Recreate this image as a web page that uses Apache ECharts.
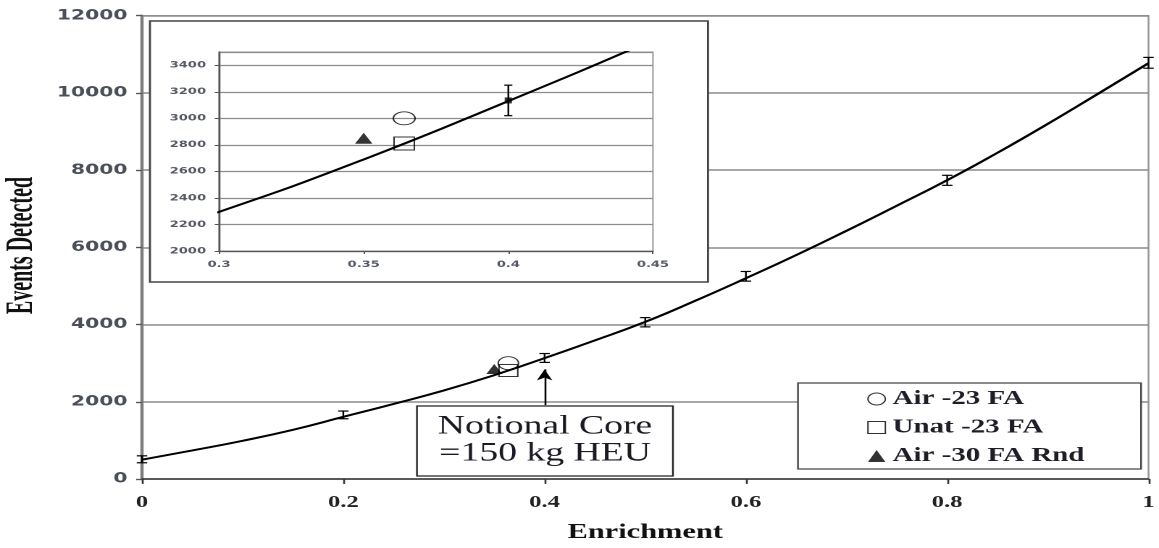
<!DOCTYPE html>
<html><head><meta charset="utf-8">
<script src="https://cdn.jsdelivr.net/npm/echarts@6/dist/echarts.min.js"></script>
<style>
html,body{margin:0;padding:0;background:#fff;overflow:hidden}
#wrap{width:1159px;height:548px;overflow:hidden;position:relative}
#chart{width:800px;height:548px;transform:scaleX(1.44875);transform-origin:0 0}
</style></head>
<body><div id="wrap"><div id="chart"></div></div>
<script>
// ---- data ----
const mainXTicks = [0, 0.2, 0.4, 0.6, 0.8, 1];
const mainYTicks = [0, 2000, 4000, 6000, 8000, 10000, 12000];
const insetXTicks = [0.3, 0.35, 0.4, 0.45];
const insetYTicks = [2000, 2200, 2400, 2600, 2800, 3000, 3200, 3400];
const insetYMax = 3500;

const fitX = [0, 0.05, 0.1, 0.15, 0.2, 0.25, 0.3, 0.35, 0.4, 0.45, 0.5, 0.55, 0.6, 0.65, 0.7, 0.75, 0.8, 0.85, 0.9, 0.95, 1.0];
const fitY = [500, 740, 990, 1275, 1610, 1945, 2295, 2690, 3130, 3590, 4070, 4620, 5200, 5800, 6430, 7080, 7740, 8450, 9200, 9980, 10770];

const simX = [0, 0.2, 0.4, 0.5, 0.6, 0.8, 1.0];
const simY = [510, 1660, 3135, 4060, 5250, 7736, 10780];
const simErr = [90, 100, 115, 120, 125, 130, 140];

const insetSimX = [0.4];
const insetSimY = [3135];
const insetSimErr = [115];

const airX = [0.364], airY = [3000];
const unatX = [0.364], unatY = [2810];
const rndX = [0.35], rndY = [2850];

const seriesNames = ['Air -23 FA', 'Unat -23 FA', 'Air -30 FA Rnd'];
const xTitle = 'Enrichment';
const yTitle = 'Events Detected';
const noteText = 'Notional Core\n=150 kg HEU';
const noteArrowX = 0.4, noteArrowFrom = 1913, noteArrowTo = 2840;

// ---- build ----
const zip = (a, b) => a.map((v, i) => [v, b[i]]);
const zip3 = (a, b, c) => a.map((v, i) => [v, b[i], c[i]]);
const step = a => a[1] - a[0];
const plain = v => String(Math.round(v * 1000) / 1000);

function errRender(hw, lw) {
  return function (params, api) {
    const x = api.value(0), y = api.value(1), e = api.value(2);
    const t = api.coord([x, y + e]);
    const b = api.coord([x, y - e]);
    const st = { stroke: '#000', lineWidth: lw };
    return { type: 'group', children: [
      { type: 'line', shape: { x1: t[0], y1: t[1], x2: b[0], y2: b[1] }, style: st },
      { type: 'line', shape: { x1: t[0] - hw, y1: t[1], x2: t[0] + hw, y2: t[1] }, style: st },
      { type: 'line', shape: { x1: b[0] - hw, y1: b[1], x2: b[0] + hw, y2: b[1] }, style: st }
    ]};
  };
}

const hollow = { color: 'transparent', borderColor: '#000', borderWidth: 1 };
const solid = { color: '#000' };

const yLabelStyle = { fontFamily: 'DejaVu Sans', fontWeight: 'bold', fontSize: 14, color: '#4b4f5a', formatter: plain };
const insetLabelStyle = { fontFamily: 'DejaVu Sans', fontWeight: 'bold', fontSize: 9, color: '#555a66', formatter: plain };

const chart = echarts.init(document.getElementById('chart'), null, { renderer: 'canvas', devicePixelRatio: 2 });

const option = {
  animation: false,
  backgroundColor: '#fff',
  grid: [
    { left: 98, right: 6.9, top: 15.7, bottom: 68, show: true, borderColor: '#9a9a9a', borderWidth: 1.3, backgroundColor: 'transparent' },
    { left: 151.2, right: 349.3, top: 52, bottom: 297, show: true, borderColor: '#9a9a9a', borderWidth: 1, z: 2 }
  ],
  xAxis: [
    { type: 'value', gridIndex: 0, min: mainXTicks[0], max: mainXTicks[mainXTicks.length - 1], interval: step(mainXTicks),
      axisLine: { show: true, onZero: false, lineStyle: { color: '#3a3a3a', width: 1.5 } },
      axisTick: { show: true, length: 5, lineStyle: { color: '#3a3a3a', width: 1.2 } },
      axisLabel: { margin: 15, fontFamily: 'Liberation Serif', fontWeight: 'bold', fontSize: 17, color: '#222', formatter: plain },
      splitLine: { show: false },
      name: xTitle, nameLocation: 'middle', nameGap: 43,
      nameTextStyle: { fontFamily: 'Liberation Serif', fontWeight: 'bold', fontSize: 21, color: '#111' } },
    { type: 'value', gridIndex: 0, min: mainXTicks[0], max: mainXTicks[mainXTicks.length - 1], interval: step(mainXTicks),
      axisLine: { show: false }, axisLabel: { show: false }, splitLine: { show: false },
      axisTick: { show: true, inside: true, length: 4, lineStyle: { color: '#3a3a3a', width: 1.2 } } },
    { type: 'value', gridIndex: 1, min: insetXTicks[0], max: insetXTicks[insetXTicks.length - 1], interval: step(insetXTicks), z: 3,
      axisLine: { show: true, onZero: false, lineStyle: { color: '#555', width: 1.3 } },
      axisTick: { show: true, length: 3, lineStyle: { color: '#555' } },
      axisLabel: Object.assign({ margin: 9 }, insetLabelStyle),
      splitLine: { show: false } }
  ],
  yAxis: [
    { type: 'value', gridIndex: 0, min: mainYTicks[0], max: mainYTicks[mainYTicks.length - 1], interval: step(mainYTicks),
      axisLine: { show: true, onZero: false, lineStyle: { color: '#7d7d7d', width: 2.2 } },
      axisTick: { show: true, length: 4, lineStyle: { color: '#555', width: 1.2 } },
      axisLabel: Object.assign({ margin: 10 }, yLabelStyle),
      splitLine: { show: true, lineStyle: { color: '#8c8c8c', width: 1.5 } } },
    { type: 'value', gridIndex: 0, min: mainYTicks[0], max: mainYTicks[mainYTicks.length - 1], interval: step(mainYTicks),
      axisLine: { show: false }, axisLabel: { show: false }, splitLine: { show: false },
      axisTick: { show: true, inside: true, length: 4, lineStyle: { color: '#555', width: 1.2 } } },
    { type: 'value', gridIndex: 1, min: insetYTicks[0], max: insetYMax, interval: step(insetYTicks), z: 3,
      axisLine: { show: true, onZero: false, lineStyle: { color: '#555', width: 1.3 } },
      axisTick: { show: true, length: 3, lineStyle: { color: '#555' } },
      axisLabel: Object.assign({ margin: 9, showMaxLabel: false }, insetLabelStyle),
      splitLine: { show: true, lineStyle: { color: '#8c8c8c', width: 1.3 } } }
  ],
  legend: {
    orient: 'vertical', left: 593.6, top: 384, itemWidth: 12, itemHeight: 12, itemGap: 8.5,
    selectedMode: false, z: 6,
    textStyle: { fontFamily: 'Liberation Serif', fontWeight: 'bold', fontSize: 20, color: '#1e1e28', lineHeight: 20 },
    data: [
      { name: seriesNames[0], icon: 'circle', itemStyle: hollow },
      { name: seriesNames[1], icon: 'rect', itemStyle: hollow },
      { name: seriesNames[2], icon: 'triangle', itemStyle: solid }
    ]
  },
  graphic: { elements: [
    { type: 'rect', z: 1, shape: { x: 103.5, y: 21, width: 385.2, height: 261 },
      style: { fill: '#fff', stroke: '#444', lineWidth: 1.4 } },
    { type: 'rect', z: 5, shape: { x: 550.8, y: 383, width: 236.8, height: 86 },
      style: { fill: '#fff', stroke: '#444', lineWidth: 1.2 } },
    { type: 'rect', z: 5, shape: { x: 287.8, y: 406, width: 176.7, height: 70 },
      style: { fill: '#fff', stroke: '#222', lineWidth: 1.2 } },
    { type: 'text', z: 6, x: 376.2, y: 440,
      style: { text: noteText, fontFamily: 'Liberation Serif', fontSize: 26, lineHeight: 27, fill: '#1a1a24', align: 'center', verticalAlign: 'middle' } },
    { type: 'text', z: 6, x: 15.2, y: 245.5, rotation: Math.PI / 2, scaleY: 1.3,
      style: { text: yTitle, fontFamily: 'Liberation Serif', fontWeight: 'bold', fontSize: 20, fill: '#111', align: 'center', verticalAlign: 'middle' } }
  ]},
  series: [
    { name: 'fit', type: 'line', xAxisIndex: 0, yAxisIndex: 0, data: zip(fitX, fitY), smooth: true, showSymbol: false, symbol: 'none',
      lineStyle: { color: '#000', width: 2 }, z: 2, silent: true,
      markLine: { silent: true, symbol: ['none', 'arrow'], symbolSize: [8, 11], label: { show: false },
        lineStyle: { color: '#000', width: 1.3, type: 'solid' },
        data: [[{ coord: [noteArrowX, noteArrowFrom] }, { coord: [noteArrowX, noteArrowTo] }]] } },
    { name: 'sim', type: 'custom', xAxisIndex: 0, yAxisIndex: 0, data: zip3(simX, simY, simErr), renderItem: errRender(3.6, 1.2), z: 3, silent: true },
    { name: seriesNames[0], type: 'scatter', xAxisIndex: 0, yAxisIndex: 0, data: zip(airX, airY), symbol: 'circle', symbolSize: [14, 13], itemStyle: hollow, z: 4 },
    { name: seriesNames[1], type: 'scatter', xAxisIndex: 0, yAxisIndex: 0, data: zip(unatX, unatY), symbol: 'rect', symbolSize: [13, 12], itemStyle: hollow, z: 4 },
    { name: seriesNames[2], type: 'scatter', xAxisIndex: 0, yAxisIndex: 0, data: zip(rndX, rndY), symbol: 'triangle', symbolSize: [11, 10], itemStyle: solid, z: 4 },

    { name: 'fit-inset', type: 'line', xAxisIndex: 2, yAxisIndex: 2, data: zip(fitX, fitY), smooth: true, showSymbol: false, symbol: 'none',
      lineStyle: { color: '#000', width: 2 }, z: 4, silent: true, clip: true },
    { name: 'sim-inset', type: 'custom', xAxisIndex: 2, yAxisIndex: 2, data: zip3(insetSimX, insetSimY, insetSimErr), renderItem: errRender(2.8, 1.2), z: 5, silent: true },
    { name: 'sim-inset-pt', type: 'scatter', xAxisIndex: 2, yAxisIndex: 2, data: zip(insetSimX, insetSimY), symbol: 'rect', symbolSize: [5, 6], itemStyle: solid, z: 5, silent: true },
    { name: seriesNames[0], type: 'scatter', xAxisIndex: 2, yAxisIndex: 2, data: zip(airX, airY), symbol: 'circle', symbolSize: [15, 13], itemStyle: hollow, z: 6 },
    { name: seriesNames[1], type: 'scatter', xAxisIndex: 2, yAxisIndex: 2, data: zip(unatX, unatY), symbol: 'rect', symbolSize: [14, 13], itemStyle: hollow, z: 6 },
    { name: seriesNames[2], type: 'scatter', xAxisIndex: 2, yAxisIndex: 2, data: zip(rndX, rndY), symbol: 'triangle', symbolSize: [12, 11], itemStyle: solid, z: 6 }
  ]
};
chart.setOption(option);
</script>
</body></html>
